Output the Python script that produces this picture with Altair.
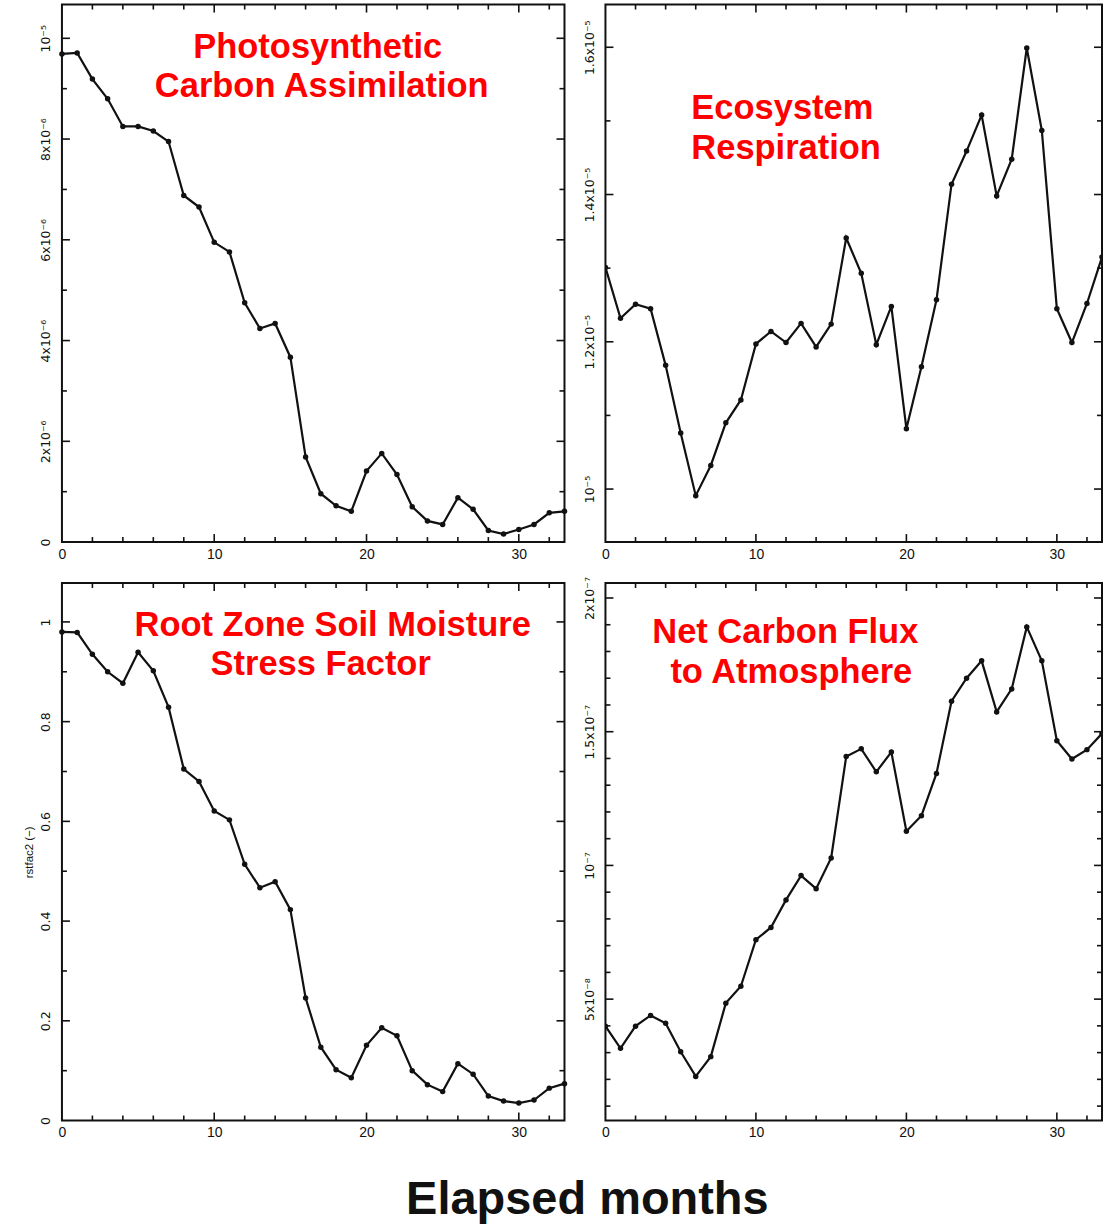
import altair as alt
import pandas as pd

# ---- data -------------------------------------------------------------
months = list(range(34))

# Photosynthetic carbon assimilation
gpp = [9.69e-6, 9.71e-6, 9.19e-6, 8.80e-6, 8.25e-6, 8.25e-6, 8.16e-6, 7.95e-6,
       6.88e-6, 6.65e-6, 5.95e-6, 5.76e-6, 4.75e-6, 4.24e-6, 4.34e-6, 3.67e-6,
       1.69e-6, 0.96e-6, 0.72e-6, 0.61e-6, 1.41e-6, 1.76e-6, 1.34e-6, 0.70e-6,
       0.42e-6, 0.35e-6, 0.88e-6, 0.65e-6, 0.23e-6, 0.16e-6, 0.25e-6, 0.35e-6,
       0.58e-6, 0.61e-6]

# Ecosystem respiration
resp = [1.301e-5, 1.232e-5, 1.251e-5, 1.245e-5, 1.168e-5, 1.076e-5, 0.991e-5,
        1.032e-5, 1.090e-5, 1.121e-5, 1.197e-5, 1.214e-5, 1.199e-5, 1.225e-5,
        1.193e-5, 1.224e-5, 1.341e-5, 1.293e-5, 1.196e-5, 1.248e-5, 1.082e-5,
        1.166e-5, 1.257e-5, 1.414e-5, 1.459e-5, 1.508e-5, 1.398e-5, 1.448e-5,
        1.599e-5, 1.487e-5, 1.245e-5, 1.199e-5, 1.252e-5, 1.315e-5]

# Root zone soil moisture stress factor (rstfac2)
rstfac2 = [0.980, 0.979, 0.935, 0.900, 0.877, 0.939, 0.902, 0.829, 0.705, 0.680,
           0.621, 0.603, 0.514, 0.467, 0.479, 0.423, 0.246, 0.147, 0.102, 0.086,
           0.151, 0.186, 0.170, 0.100, 0.072, 0.058, 0.114, 0.093, 0.049, 0.039,
           0.035, 0.041, 0.065, 0.074]

# Net carbon flux to atmosphere
nee = [3.99e-8, 3.16e-8, 3.99e-8, 4.39e-8, 4.10e-8, 3.03e-8, 2.11e-8, 2.85e-8,
       4.85e-8, 5.48e-8, 7.22e-8, 7.68e-8, 8.71e-8, 9.62e-8, 9.13e-8, 10.28e-8,
       14.07e-8, 14.36e-8, 13.50e-8, 14.24e-8, 11.28e-8, 11.86e-8, 13.44e-8,
       16.14e-8, 17.00e-8, 17.65e-8, 15.74e-8, 16.60e-8, 18.92e-8, 17.65e-8,
       14.66e-8, 13.98e-8, 14.33e-8, 14.93e-8]

# axis ticks and their labels
x_major = [10, 20, 30]
x_minor = [2, 4, 6, 8, 12, 14, 16, 18, 22, 24, 26, 28, 32]
x_label_vals = [0, 10, 20, 30]

gpp_ticks = [0, 2e-6, 4e-6, 6e-6, 8e-6, 1e-5]
gpp_labels = ["0", "2x10\u207b\u2076", "4x10\u207b\u2076", "6x10\u207b\u2076",
              "8x10\u207b\u2076", "10\u207b\u2075"]
gpp_minor = [1e-6, 3e-6, 5e-6, 7e-6, 9e-6]

resp_ticks = [1.0e-5, 1.2e-5, 1.4e-5, 1.6e-5]
resp_labels = ["10\u207b\u2075", "1.2x10\u207b\u2075", "1.4x10\u207b\u2075",
               "1.6x10\u207b\u2075"]
resp_minor = [1.1e-5, 1.3e-5, 1.5e-5]

rst_ticks = [0, 0.2, 0.4, 0.6, 0.8, 1.0]
rst_labels = ["0", "0.2", "0.4", "0.6", "0.8", "1"]
rst_minor = [0.1, 0.3, 0.5, 0.7, 0.9]

nee_ticks = [5e-8, 1e-7, 1.5e-7, 2e-7]
nee_labels = ["5x10\u207b\u2078", "10\u207b\u2077", "1.5x10\u207b\u2077",
              "2x10\u207b\u2077"]
nee_minor = [1e-8, 2e-8, 3e-8, 4e-8, 6e-8, 7e-8, 8e-8, 9e-8, 1.1e-7, 1.2e-7,
             1.3e-7, 1.4e-7, 1.6e-7, 1.7e-7, 1.8e-7, 1.9e-7]

# ---- styling ----------------------------------------------------------
INK = "#111111"
RED = "#ff0000"
FONT = "Liberation Sans"
SUP_FONT = "DejaVu Sans"


def label_expr(vals, labels):
    eps = abs(vals[-1] - vals[0]) * 1e-4
    expr = "''"
    for v, lab in reversed(list(zip(vals, labels))):
        expr = f"abs(datum.value - ({v!r})) < {eps!r} ? '{lab}' : {expr}"
    return expr


def panel(values, ydomain, yticks, ylabels, yminor, width, height, texts,
          ytitle="", clip=False):
    df = pd.DataFrame({"month": months, "value": values})
    xenc = alt.X(
        "month:Q",
        scale=alt.Scale(domain=[0, 33], nice=False, zero=False),
        axis=alt.Axis(values=x_label_vals, ticks=False, domain=False, grid=False,
                      labelPadding=5, labelFontSize=14, labelFont=FONT,
                      labelColor=INK, labelFlush=False, title=None),
    )
    yaxis = dict(values=yticks, labelExpr=label_expr(yticks, ylabels), ticks=False,
                 domain=False, grid=False, labelAngle=-90, labelAlign="center",
                 labelBaseline="bottom", labelPadding=9, labelFontSize=12.5,
                 labelFont=SUP_FONT, labelColor=INK, labelFlush=False)
    if ytitle:
        yaxis.update(title=ytitle, titleFontSize=11.5, titleFont=FONT,
                     titleFontWeight="normal", titleColor=INK, titlePadding=5)
    else:
        yaxis.update(title=None)
    yenc = alt.Y("value:Q",
                 scale=alt.Scale(domain=ydomain, nice=False, zero=False),
                 axis=alt.Axis(**yaxis))

    base = alt.Chart(df)
    line = base.mark_line(color=INK, strokeWidth=2.2, clip=clip).encode(x=xenc, y=yenc)
    pts = base.mark_point(filled=True, size=30, color=INK, opacity=1,
                          clip=clip).encode(x=xenc, y=yenc)

    layers = [line, pts]
    # inward ticks on all four sides of the frame
    for vals, ln in ((x_major, 8), (x_minor, 5)):
        td = alt.Chart(pd.DataFrame({"month": vals})).mark_rule(color=INK, strokeWidth=1.6)
        layers.append(td.encode(x=xenc, y=alt.value(height), y2=alt.value(height - ln)))
        layers.append(td.encode(x=xenc, y=alt.value(0), y2=alt.value(ln)))
    for vals, ln in (([t for t in yticks if t > ydomain[0]], 8), (yminor, 5)):
        td = alt.Chart(pd.DataFrame({"value": vals})).mark_rule(color=INK, strokeWidth=1.6)
        layers.append(td.encode(y=yenc, x=alt.value(0), x2=alt.value(ln)))
        layers.append(td.encode(y=yenc, x=alt.value(width), x2=alt.value(width - ln)))

    for txt, tx, ty, align in texts:
        layers.append(
            alt.Chart(pd.DataFrame({"t": [txt]}))
            .mark_text(color=RED, font=FONT, fontWeight="bold", fontSize=34.5,
                       align=align, baseline="middle")
            .encode(text="t:N", x=alt.value(tx), y=alt.value(ty))
        )
    return alt.layer(*layers).properties(width=width, height=height)


LW, RW, H = 503, 497, 538

p1 = panel(gpp, [0, 1.067e-5], gpp_ticks, gpp_labels, gpp_minor, LW, H,
           [("Photosynthetic", 256, 43, "center"),
            ("Carbon Assimilation", 260, 83, "center")])
p2 = panel(resp, [0.928e-5, 1.658e-5], resp_ticks, resp_labels, resp_minor, RW, H,
           [("Ecosystem", 86, 105, "left"),
            ("Respiration", 86, 145, "left")], clip=True)
p3 = panel(rstfac2, [0, 1.078], rst_ticks, rst_labels, rst_minor, LW, H,
           [("Root Zone Soil Moisture", 271, 43, "center"),
            ("Stress Factor", 259, 82, "center")],
           ytitle="rstfac2 (\u2212)")
p4 = panel(nee, [0.46e-8, 2.056e-7], nee_ticks, nee_labels, nee_minor, RW, H,
           [("Net Carbon Flux", 180, 50, "center"),
            ("to Atmosphere", 186, 90, "center")], clip=True)

chart = (
    alt.concat(p1, p2, p3, p4, columns=2, spacing={"row": 41, "column": 41},
               bounds="flush", align="each",
               title=alt.TitleParams("Elapsed months", orient="bottom", anchor="middle",
                                     font=FONT, fontSize=47, fontWeight="bold",
                                     color=INK, offset=37, dx=24))
    .properties(padding={"left": 23, "top": 2, "right": 0, "bottom": 0},
                background="white")
    .configure_view(stroke=INK, strokeWidth=2)
)

chart.save("out.html", embed_options={"renderer": "svg", "actions": False})
